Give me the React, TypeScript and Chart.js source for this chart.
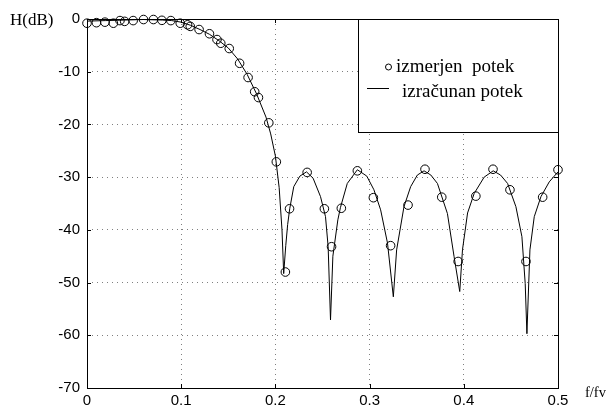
import React, { useEffect, useRef } from "react";
import { Chart, registerables } from "chart.js";

Chart.register(...registerables);

// Measured points (f/fv, dB)
const measuredF = [0, 0.010, 0.019, 0.028, 0.035, 0.040, 0.049, 0.060, 0.0705, 0.0795, 0.089, 0.099, 0.1067, 0.1096, 0.119, 0.130, 0.138, 0.142, 0.151, 0.162, 0.171, 0.178, 0.182, 0.193, 0.201, 0.2106, 0.215, 0.2337, 0.252, 0.2596, 0.270, 0.287, 0.304, 0.3223, 0.3408, 0.3588, 0.3766, 0.394, 0.4128, 0.431, 0.449, 0.466, 0.4837, 0.5];
const measuredDb = [-0.8, -0.7, -0.6, -0.8, -0.3, -0.45, -0.3, -0.1, -0.1, -0.25, -0.3, -0.8, -1.1, -1.4, -2.0, -2.8, -3.9, -4.6, -5.6, -8.4, -11.1, -13.8, -14.9, -19.7, -27.1, -48, -36, -29.1, -36, -43.2, -35.9, -28.8, -33.9, -43, -35.3, -28.5, -33.8, -46, -33.6, -28.5, -32.4, -46, -33.8, -28.6];

// Calculated response (f/fv, dB)
const calcF = [0, 0.02, 0.04, 0.06, 0.08, 0.09, 0.1, 0.11, 0.12, 0.13, 0.14, 0.15, 0.16, 0.17, 0.18, 0.19, 0.195, 0.2, 0.204, 0.207, 0.2088, 0.211, 0.213, 0.2152, 0.2195, 0.226, 0.233, 0.24, 0.2479, 0.2532, 0.256, 0.2585, 0.261, 0.2663, 0.269, 0.2763, 0.287, 0.297, 0.3046, 0.3117, 0.319, 0.3252, 0.3287, 0.3365, 0.3436, 0.3507, 0.3578, 0.365, 0.372, 0.3826, 0.3897, 0.3957, 0.3986, 0.404, 0.411, 0.4216, 0.4312, 0.439, 0.4465, 0.4553, 0.4617, 0.4652, 0.467, 0.4702, 0.4748, 0.4819, 0.4907, 0.5];
const calcDb = [-0.4, -0.3, -0.2, -0.1, -0.2, -0.3, -0.6, -1.2, -2.0, -2.9, -4.1, -5.5, -7.6, -10.5, -14.2, -18.6, -21.8, -26, -32, -40, -48.3, -43, -39, -36, -31.8, -29.8, -29, -30.2, -33.7, -37.5, -43.2, -57.1, -45, -38.1, -35.8, -31.2, -28.6, -29.8, -32.4, -36.2, -42.5, -52.7, -43.8, -35.6, -31.8, -29.6, -28.8, -29.6, -31.2, -36.9, -45.1, -51.7, -43.8, -36.8, -33.1, -30, -28.8, -29.6, -31.2, -35.6, -41.3, -50.2, -59.7, -43.8, -37.5, -33.7, -30.9, -29];

const xTicks = [0, 0.1, 0.2, 0.3, 0.4, 0.5];
const yTicks = [0, -10, -20, -30, -40, -50, -60, -70];

const yLabel = "H(dB)";
const xLabel = "f/fv";
const legendMeasured = "izmerjen  potek";
const legendCalc = "izračunan potek";

const framePlugin = {
  id: "frame",
  afterDraw(chart: any) {
    const { ctx, chartArea: a, scales } = chart;
    ctx.save();
    // inward tick marks
    ctx.strokeStyle = "#000";
    ctx.lineWidth = 1;
    ctx.beginPath();
    for (const v of yTicks) {
      const y = Math.round(scales.y.getPixelForValue(v)) + 0.5;
      ctx.moveTo(a.left, y); ctx.lineTo(a.left + 4, y);
      ctx.moveTo(a.right, y); ctx.lineTo(a.right - 4, y);
    }
    for (const v of xTicks) {
      const x = Math.round(scales.x.getPixelForValue(v)) + 0.5;
      ctx.moveTo(x, a.bottom); ctx.lineTo(x, a.bottom - 4);
      ctx.moveTo(x, a.top); ctx.lineTo(x, a.top + 4);
    }
    ctx.stroke();
    // frame
    ctx.strokeRect(Math.round(a.left) + 0.5, Math.round(a.top) + 0.5, Math.round(a.right - a.left), Math.round(a.bottom - a.top));

    // legend box
    const lx = 358, ly = a.top, lr = a.right, lb = 132;
    ctx.fillStyle = "#fff";
    ctx.fillRect(lx, ly, lr - lx, lb - ly);
    ctx.strokeStyle = "#000";
    ctx.strokeRect(lx + 0.5, Math.round(ly) + 0.5, lr - lx, lb - ly);
    ctx.beginPath();
    ctx.arc(388.5, 67, 3, 0, Math.PI * 2);
    ctx.stroke();
    ctx.beginPath();
    ctx.moveTo(367, 88.5); ctx.lineTo(389, 88.5);
    ctx.stroke();
    ctx.fillStyle = "#000";
    ctx.font = "19px 'Liberation Serif', 'DejaVu Serif', serif";
    ctx.textAlign = "left";
    ctx.textBaseline = "alphabetic";
    ctx.fillText(legendMeasured, 396, 72);
    ctx.fillText(legendCalc, 402, 97);

    // axis labels
    ctx.font = "17px 'Liberation Serif', serif";
    ctx.fillText(yLabel, 10, 25);
    ctx.font = "14.5px 'Liberation Serif', serif";
    ctx.fillText(xLabel, 585, 397);
    ctx.restore();
  },
};

export default function App() {
  const ref = useRef<HTMLCanvasElement>(null);
  useEffect(() => {
    document.body.style.margin = "0";
    const grid = {
      color: "rgba(0,0,0,0.5)",
      lineWidth: 1,
      drawTicks: false,
    };
    const chart = new Chart(ref.current!, {
      type: "scatter",
      data: {
        datasets: [
          {
            label: "izmerjen potek",
            data: measuredF.map((f, i) => ({ x: f, y: measuredDb[i] })),
            showLine: false,
            pointStyle: "circle",
            pointRadius: 4.3,
            pointBorderWidth: 1,
            borderColor: "#000",
            backgroundColor: "rgba(0,0,0,0)",
            clip: false,
          } as any,
          {
            label: "izračunan potek",
            data: calcF.map((f, i) => ({ x: f, y: calcDb[i] })),
            showLine: true,
            pointRadius: 0,
            borderColor: "#000",
            borderWidth: 1,
            tension: 0,
            clip: false,
          } as any,
        ],
      },
      options: {
        animation: false,
        responsive: false,
        devicePixelRatio: 1,
        layout: { padding: { left: 0, top: 19, right: 53, bottom: 0 } },
        plugins: { legend: { display: false }, tooltip: { enabled: false } },
        scales: {
          x: {
            type: "linear",
            min: 0,
            max: 0.5,
            afterBuildTicks: (s: any) => { s.ticks = xTicks.map((v) => ({ value: v })); },
            afterFit: (s: any) => { s.height = 19; },
            grid: { ...grid } as any,
            border: { display: false, dash: [1, 4] },
            ticks: {
              padding: 4,
              color: "#000",
              font: { family: "'Liberation Sans', Arial, sans-serif", size: 15 },
              maxRotation: 0,
              callback: (v: any) => (v === 0 ? "0" : Number(v).toFixed(1)),
            },
          },
          y: {
            type: "linear",
            min: -70,
            max: 0,
            afterBuildTicks: (s: any) => { s.ticks = yTicks.map((v) => ({ value: v })); },
            afterFit: (s: any) => { s.width = 87; },
            grid: { ...grid } as any,
            border: { display: false, dash: [1, 4] },
            ticks: {
              padding: 7,
              color: "#000",
              font: { family: "'Liberation Sans', Arial, sans-serif", size: 15 },
              callback: (v: any) => String(v),
            },
          },
        },
      },
      plugins: [framePlugin],
    });
    return () => chart.destroy();
  }, []);
  return (
    <div style={{ position: "absolute", left: 0, top: 0, width: 611, height: 407, background: "#fff" }}>
      <canvas ref={ref} width={611} height={407} />
    </div>
  );
}
